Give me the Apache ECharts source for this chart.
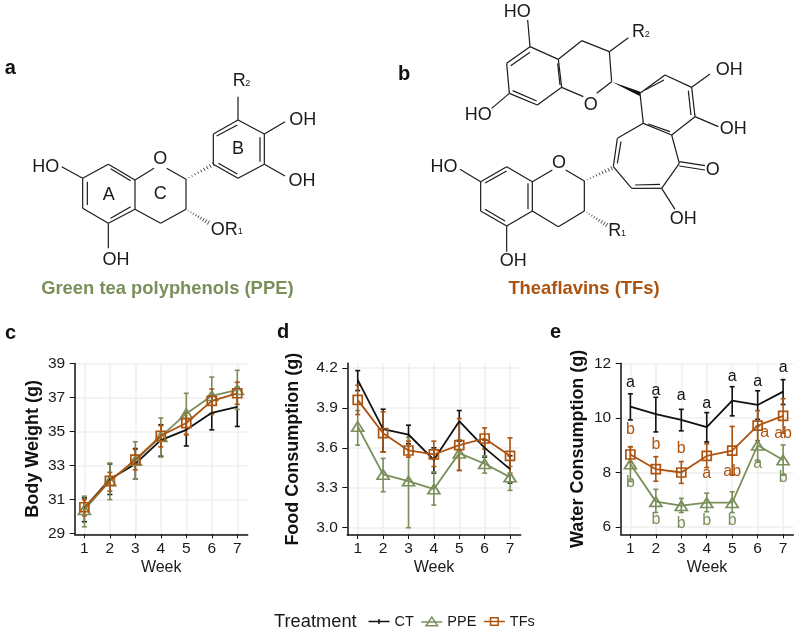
<!DOCTYPE html>
<html><head><meta charset="utf-8">
<style>html,body{margin:0;padding:0;background:#fff}#c{width:800px;height:633px}</style>
<script src="https://cdn.jsdelivr.net/npm/echarts@6/dist/echarts.min.js"></script>
</head><body><div id="c"></div>
<script>
const weeks = [1,2,3,4,5,6,7];
// Body weight (g)
const bodyCT = [30.5,32.2,33.1,34.5,35.1,36.1,36.45];
const bodyCTLow = [29.7,31.3,32.2,33.55,34.15,35.1,35.3];
const bodyCTHigh = [31.1,33.1,34.0,35.4,36.1,37.1,37.6];
const bodyPPE = [30.4,32.1,33.3,34.7,36.05,37.1,37.45];
const bodyPPELow = [29.4,31.0,32.2,33.5,34.85,36.0,36.3];
const bodyPPEHigh = [31.2,33.15,34.4,35.8,37.25,38.2,38.6];
const bodyTF = [30.55,32.1,33.35,34.75,35.5,36.8,37.25];
const bodyTFLow = [30.05,31.5,32.75,34.1,34.8,36.05,36.6];
const bodyTFHigh = [31.0,32.6,33.95,35.35,36.1,37.5,37.9];
// Food consumption (g)
const foodCT = [4.11,3.74,3.70,3.51,3.80,3.60,3.44];
const foodCTLow = [4.03,3.57,3.63,3.41,3.65,3.53,3.335];
const foodCTHigh = [4.18,3.89,3.77,3.6,3.88,3.66,3.54];
const foodPPE = [3.76,3.40,3.35,3.29,3.56,3.48,3.38];
const foodPPELow = [3.62,3.27,3.0,3.17,3.43,3.41,3.28];
const foodPPEHigh = [3.88,3.52,3.68,3.42,3.66,3.54,3.46];
const foodTF = [3.96,3.71,3.58,3.55,3.62,3.67,3.54];
const foodTFLow = [3.85,3.57,3.53,3.46,3.43,3.59,3.41];
const foodTFHigh = [4.07,3.87,3.65,3.65,3.82,3.75,3.675];
// Water consumption (g)
const waterCT = [10.42,10.14,9.93,9.67,10.64,10.48,10.97];
const waterCTLow = [9.93,9.49,9.53,9.12,10.08,9.95,10.5];
const waterCTHigh = [10.89,10.76,10.32,10.2,11.15,11.0,11.41];
const waterPPE = [8.31,6.93,6.78,6.89,6.89,9.0,8.46];
const waterPPELow = [7.67,6.53,6.53,6.56,6.53,8.4,7.9];
const waterPPEHigh = [8.95,7.38,7.05,7.24,7.29,9.7,9.01];
const waterTF = [8.66,8.12,8.0,8.61,8.8,9.72,10.08];
const waterTFLow = [8.37,7.68,7.6,8.18,7.9,9.17,9.44];
const waterTFHigh = [8.94,8.58,8.4,9.05,9.69,10.27,10.71];
// Significance letters on the water panel
const waterCTLetters = ['a','a','a','a','a','a','a'];
const waterCTLetterY = [11.3,11.0,10.82,10.54,11.52,11.34,11.85];
const waterPPELetters = ['b','b','b','b','b','a','b'];
const waterPPELetterY = [7.64,6.28,6.13,6.23,6.23,8.31,7.81];
const waterTFLetters = ['b','b','b','a','ab','a','ab'];
const waterTFLetterX = [1,2,3,4,5,6.28,7];
const waterTFLetterY = [9.56,9.01,8.89,7.95,8.03,9.47,9.42];
const bodyTicks = [29,31,33,35,37,39];
const foodTicks = [3.0,3.3,3.6,3.9,4.2];
const waterTicks = [6,8,10,12];
const treatments = ['CT','PPE','TFs'];

const FONT = '"Liberation Sans", Arial, sans-serif';
const BLACK = '#111111', GREEN = '#7a8f5a', BROWN = '#ad5310';

const panels = [
 {g:{left:74.7,top:363.5,width:173,height:170.8}, xr:[0.62,7.41], yr:[28.96,39], ticks:bodyTicks, name:'Body Weight (g)', nameGap:33, dec:0,
  d:[[bodyCT,bodyCTLow,bodyCTHigh],[bodyPPE,bodyPPELow,bodyPPEHigh],[bodyTF,bodyTFLow,bodyTFHigh]]},
 {g:{left:347.3,top:363.3,width:173.4,height:171.7}, xr:[0.59,7.42], yr:[2.945,4.235], ticks:foodTicks, name:'Food Consumption (g)', nameGap:45.5, dec:1,
  d:[[foodCT,foodCTLow,foodCTHigh],[foodPPE,foodPPELow,foodPPEHigh],[foodTF,foodTFLow,foodTFHigh]]},
 {g:{left:620.7,top:363.3,width:172.6,height:171}, xr:[0.62,7.4], yr:[5.73,12.01], ticks:waterTicks, name:'Water Consumption (g)', nameGap:33.5, dec:0,
  d:[[waterCT,waterCTLow,waterCTHigh],[waterPPE,waterPPELow,waterPPEHigh],[waterTF,waterTFLow,waterTFHigh]]}
];
const colors = [BLACK,GREEN,BROWN];
const symbols = ['none','triangle','rect'];
const symSizes = [0,[12,9.5],[9,9]];

const grid=[],xAxis=[],yAxis=[],series=[];
panels.forEach((p,i)=>{
  grid.push(p.g);
  xAxis.push({type:'value',gridIndex:i,min:p.xr[0],max:p.xr[1],
    name:'Week',nameLocation:'middle',nameGap:25,nameTextStyle:{fontFamily:FONT,fontSize:16,color:'#1a1a1a'},
    axisLine:{onZero:false,lineStyle:{color:'#111',width:1.5}},
    axisTick:{customValues:weeks,length:4,lineStyle:{color:'#111',width:1}},
    axisLabel:{customValues:weeks,fontFamily:FONT,fontSize:15.5,color:'#1a1a1a',margin:6,formatter:v=>String(v)},
    splitLine:{show:true,lineStyle:{color:'#efefef',width:1.5}}});
  yAxis.push({type:'value',gridIndex:i,min:p.yr[0],max:p.yr[1],
    name:p.name,nameLocation:'middle',nameGap:p.nameGap,nameTextStyle:{fontFamily:FONT,fontSize:18,fontWeight:'bold',color:'#111'},
    axisLine:{onZero:false,lineStyle:{color:'#111',width:1.5}},
    axisTick:{customValues:p.ticks,length:5,lineStyle:{color:'#111',width:1}},
    axisLabel:{customValues:p.ticks,fontFamily:FONT,fontSize:15.5,color:'#1a1a1a',margin:9.5,formatter:v=>v.toFixed(p.dec)},
    splitLine:{show:true,lineStyle:{color:'#efefef',width:1.5}}});
  p.d.forEach((s,k)=>{
    series.push({type:'custom',name:treatments[k],xAxisIndex:i,yAxisIndex:i,z:2+k,clip:false,silent:true,
      data:weeks.map((w,j)=>[w,s[1][j],s[2][j]]),
      encode:{x:0,y:[1,2]},
      renderItem:(params,api)=>{
        const a=api.coord([api.value(0),api.value(1)]),b=api.coord([api.value(0),api.value(2)]);
        const st={stroke:colors[k],lineWidth:1.6,fill:null};
        const cap=2.5;
        return {type:'group',children:[
          {type:'line',shape:{x1:a[0],y1:a[1],x2:b[0],y2:b[1]},style:st},
          {type:'line',shape:{x1:a[0]-cap,y1:a[1],x2:a[0]+cap,y2:a[1]},style:st},
          {type:'line',shape:{x1:b[0]-cap,y1:b[1],x2:b[0]+cap,y2:b[1]},style:st}]};
      }});
  });
  p.d.forEach((s,k)=>{
    series.push({type:'line',name:treatments[k],xAxisIndex:i,yAxisIndex:i,z:6+k,clip:false,silent:true,animation:false,
      data:weeks.map((w,j)=>[w,s[0][j]]),
      symbol:symbols[k],symbolSize:symSizes[k],showSymbol:k>0,showAllSymbol:true,
      lineStyle:{color:colors[k],width:1.8},
      itemStyle:{color:k?'rgba(255,255,255,0)':colors[k],borderColor:colors[k],borderWidth:1.7}});
  });
});
function letters(xs,ys,txt,color){
  series.push({type:'scatter',xAxisIndex:2,yAxisIndex:2,z:12,silent:true,symbolSize:1,clip:false,
    itemStyle:{color:'rgba(0,0,0,0)',opacity:1},
    data:txt.map((t,j)=>({value:[xs[j],ys[j]],t})),
    label:{show:true,position:'inside',formatter:q=>q.data.t,fontFamily:FONT,fontSize:16,color}});
}
letters(weeks,waterCTLetterY,waterCTLetters,BLACK);
letters(weeks,waterPPELetterY,waterPPELetters,GREEN);
letters(waterTFLetterX,waterTFLetterY,waterTFLetters,BROWN);

/* ---- chemical structure drawings ---- */
const G=[];
const INK='#1c1c1c';
const ATOM=18, SUB=9, HEAD=20;
function seg(ox,oy,list,w){list.forEach(a=>G.push({type:'line',silent:true,shape:{x1:ox+a[0]/3,y1:oy+a[1]/3,x2:ox+a[2]/3,y2:oy+a[3]/3},style:{stroke:INK,lineWidth:w||1.2}}));}
function hash(ox,oy,x1,y1,x2,y2){
  const n=9,dx=(x2-x1)/3,dy=(y2-y1)/3,l=Math.hypot(dx,dy);
  for(let i=0;i<=n;i++){const t=i/n,cx=ox+x1/3+dx*t,cy=oy+y1/3+dy*t,h=0.3+2*t;
    G.push({type:'line',silent:true,shape:{x1:cx-dy/l*h,y1:cy+dx/l*h,x2:cx+dy/l*h,y2:cy-dx/l*h},style:{stroke:INK,lineWidth:0.8}});}
}
function txt(ox,oy,x,y,t,size,opt){
  opt=opt||{};
  G.push({type:'text',silent:true,x:ox+x/3,y:oy+y/3,style:{text:t,font:(opt.w||'normal')+' '+size+'px '+FONT,fill:opt.c||'#1a1a1a',textAlign:opt.a||'center',textVerticalAlign:'middle'}});
}
function page(x,y,t,size,opt){txt(0,0,x*3,y*3,t,size,opt);}
const HB={w:'bold',a:'left',c:'#111'};
// panel a
(function(){const X=0,Y=50;
 seg(X,Y,[[248,385,325,343],[325,343,405,390],[405,390,405,478],[405,478,325,520],[325,520,248,475],[248,475,248,385],
  [332,356,392,392],[392,470,332,505],[262,395,262,465],
  [405,390,462,355],[500,355,558,388],[558,388,558,478],[558,478,482,520],[482,520,405,478],
  [248,385,185,350],[325,520,325,595],
  [640,343,640,252],[640,252,714,210],[714,210,793,252],[793,252,793,343],[793,343,714,385],[714,385,640,343],
  [650,258,712,225],[780,262,780,335],[655,340,712,372],
  [714,210,714,140],[793,252,855,215],[793,343,855,378]]);
 hash(X,Y,558,388,640,343);hash(X,Y,558,478,625,518);
 txt(X,Y,137,350,'HO',ATOM);txt(X,Y,348,630,'OH',ATOM);txt(X,Y,481,327,'O',ATOM);
 txt(X,Y,326,435,'A',ATOM);txt(X,Y,481,432,'C',ATOM);txt(X,Y,714,298,'B',ATOM);
 txt(X,Y,632,540,'OR',ATOM,{a:'left'});txt(X,Y,713,546,'1',SUB,{a:'left'});
 txt(X,Y,698,92,'R',ATOM,{a:'left'});txt(X,Y,736,100,'2',SUB,{a:'left'});
 txt(X,Y,908,210,'OH',ATOM);txt(X,Y,906,392,'OH',ATOM);
 txt(X,Y,14,55,'a',HEAD,HB);
 txt(X,Y,502,718,'Green tea polyphenols (PPE)',18.4,{w:'bold',c:GREEN});
})();
// panel b
(function(){const X=390,Y=0;
 seg(X,Y,[[420,140,505,178],[505,178,515,262],[515,262,442,315],[442,315,358,280],[358,280,350,190],[350,190,420,140],
  [420,157,362,197],[503,190,510,255],[368,272,440,303],
  [420,140,413,60],[505,178,575,122],[575,122,658,155],[658,155,665,245],[665,245,620,280],[580,290,515,262],
  [658,155,715,113],[358,280,305,325],
  [750,280,825,225],[825,225,905,262],[905,262,915,350],[915,350,845,405],[845,405,760,370],[760,370,750,280],
  [765,270,822,240],[895,272,903,345],[775,372,840,395],
  [905,262,960,222],[915,350,985,380],
  [760,370,682,415],[682,415,670,500],[670,500,725,565],[725,565,815,565],[815,565,868,490],[868,490,845,405],
  [693,425,682,490],[735,555,810,553],[868,485,945,497],[868,498,945,510],[815,565,855,628],
  [427,545,350,500],[350,500,272,545],[272,545,272,633],[272,633,350,678],[350,678,427,633],[427,633,427,545],
  [350,513,285,549],[414,550,414,628],[285,628,345,663],
  [272,545,210,508],[350,678,350,755],[427,545,487,510],[527,510,583,543],[583,543,583,633],[583,633,505,680],[505,680,427,633]]);
 G.push({type:'polygon',silent:true,shape:{points:[[X+665/3,Y+245/3],[X+751/3,Y+275/3],[X+749/3,Y+288/3]]},style:{fill:'#111'}});
 hash(X,Y,583,543,665,505);hash(X,Y,583,633,650,675);
 txt(X,Y,382,35,'HO',ATOM);txt(X,Y,265,345,'HO',ATOM);txt(X,Y,602,315,'O',ATOM);
 txt(X,Y,726,95,'R',ATOM,{a:'left'});txt(X,Y,764,104,'2',SUB,{a:'left'});
 txt(X,Y,1018,210,'OH',ATOM);txt(X,Y,1030,388,'OH',ATOM);txt(X,Y,968,510,'O',ATOM);txt(X,Y,880,657,'OH',ATOM);
 txt(X,Y,162,500,'HO',ATOM);txt(X,Y,507,490,'O',ATOM);txt(X,Y,370,782,'OH',ATOM);
 txt(X,Y,655,692,'R',ATOM,{a:'left'});txt(X,Y,693,702,'1',SUB,{a:'left'});
 txt(X,Y,24,222,'b',HEAD,HB);
 txt(X,Y,582,868,'Theaflavins (TFs)',18.4,{w:'bold',c:BROWN});
})();
// panel letters and legend title
page(5,333,'c',HEAD,HB);
page(277,332,'d',HEAD,HB);
page(550,332,'e',HEAD,HB);
page(274,622,'Treatment',18.3,{a:'left'});

const crossIcon='path://M0,10 L44,10 M22,5 L22,15';
const triIcon='path://M0,10 L44,10 M22,0 L34,18 L10,18 Z';
const rectIcon='path://M0,10 L44,10 M14,2 L30,2 L30,18 L14,18 Z';
const chart=echarts.init(document.getElementById('c'),null,{renderer:'canvas'});
chart.setOption({
  animation:false,backgroundColor:'#fff',
  grid,xAxis,yAxis,series,graphic:{elements:G},
  legend:{left:366,top:614,padding:0,itemWidth:21,itemHeight:11,itemGap:5,selectedMode:false,
    textStyle:{fontFamily:FONT,fontSize:14.5,color:'#1a1a1a'},
    data:[{name:'CT',icon:crossIcon,itemStyle:{color:'none',borderColor:BLACK,borderWidth:1.5}},
          {name:'PPE',icon:triIcon,itemStyle:{color:'none',borderColor:GREEN,borderWidth:1.5}},
          {name:'TFs',icon:rectIcon,itemStyle:{color:'none',borderColor:BROWN,borderWidth:1.5}}]}
});
</script></body></html>
